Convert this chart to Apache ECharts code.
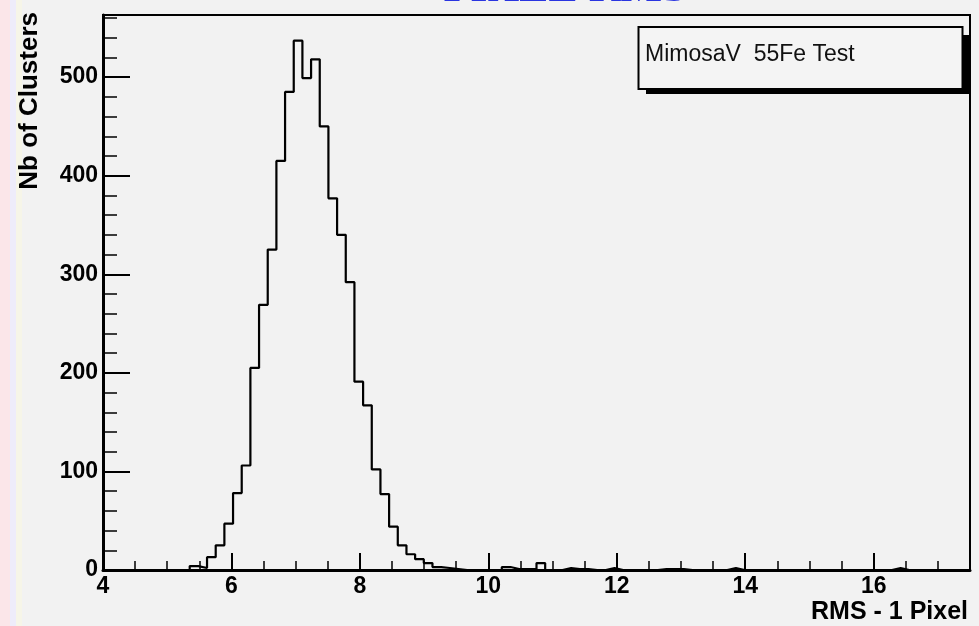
<!DOCTYPE html>
<html>
<head>
<meta charset="utf-8">
<title>MimosaV 55Fe Test - RMS</title>
<script src="https://cdn.jsdelivr.net/npm/echarts@6.0.0/dist/echarts.min.js"></script>
<style>
  html, body { margin: 0; padding: 0; background: #f2f2f2; }
  #chart { width: 979px; height: 626px; }
</style>
</head>
<body>
<div id="chart"></div>
<script>
// Histogram binning: 100 bins between 4 and 17.5
const binMin = 4;
const binMax = 17.5;
const binCount = 100;

// Cluster counts per bin
const counts = [
  0, 0, 0, 0, 0, 0, 0, 0, 0, 0,
  4, 2, 13, 25, 47, 78, 106, 205, 269, 325,
  415, 485, 537, 499, 518, 450, 377, 340, 292, 191,
  167, 102, 77, 44, 25, 16, 11, 7, 3, 2,
  1, 0, 0, 0, 0, 0, 3, 1, 1, 1,
  7, 0, 0, 2, 1, 1, 0, 0, 2, 0,
  0, 0, 0, 0, 1, 1, 1, 0, 0, 0,
  0, 0, 2, 0, 0, 0, 0, 0, 0, 0,
  0, 0, 0, 0, 0, 0, 0, 0, 0, 0,
  0, 2, 0, 0, 0, 0, 0, 0, 0, 0
];

// Axis settings
const xMajorStep = 2;
const xMinorStep = 0.5;
const yMax = 563;
const yMajorStep = 100;
const yMinorStep = 20;

const titleText = 'PIXEL RMS';
const xTitle = 'RMS - 1 Pixel';
const yTitle = 'Nb of Clusters';
const boxText = 'MimosaV  55Fe Test';

// Step outline: each bin starts at its lower edge, closed at the upper edge
const binWidth = (binMax - binMin) / binCount;
const outline = counts.map((c, k) => [binMin + k * binWidth, c]);
outline.push([binMax, counts[binCount - 1]]);

const sans = '"Liberation Sans", Arial, Helvetica, sans-serif';

const chart = echarts.init(document.getElementById('chart'), null, { renderer: 'canvas' });

chart.setOption({
  backgroundColor: '#f2f2f2',
  animation: false,
  grid: {
    left: 103, right: 9, top: 15, bottom: 56,
    show: true, borderColor: '#000', borderWidth: 2,
    backgroundColor: 'transparent'
  },
  xAxis: [
    {
      type: 'value', position: 'bottom',
      min: binMin, max: binMax, interval: xMajorStep,
      axisLine: { lineStyle: { color: '#000', width: 3 } },
      axisTick: { inside: true, length: 17, lineStyle: { color: '#000', width: 2 } },
      axisLabel: {
        color: '#000', fontSize: 23, fontWeight: 'bold', fontFamily: sans,
        margin: 5, showMaxLabel: false
      },
      splitLine: { show: false }
    },
    {
      type: 'value', position: 'bottom',
      min: binMin, max: binMax, interval: xMinorStep,
      axisLine: { show: false },
      axisTick: { inside: true, length: 9, lineStyle: { color: '#000', width: 1.5 } },
      axisLabel: { show: false },
      splitLine: { show: false }
    }
  ],
  yAxis: [
    {
      type: 'value', position: 'left',
      min: 0, max: yMax, interval: yMajorStep,
      axisLine: { lineStyle: { color: '#000', width: 3 } },
      axisTick: { inside: true, length: 27, lineStyle: { color: '#000', width: 2 } },
      axisLabel: {
        color: '#000', fontSize: 23, fontWeight: 'bold', fontFamily: sans,
        margin: 5, showMaxLabel: false
      },
      splitLine: { show: false }
    },
    {
      type: 'value', position: 'left',
      min: 0, max: yMax, interval: yMinorStep,
      axisLine: { show: false },
      axisTick: { inside: true, length: 14, lineStyle: { color: '#000', width: 1.5 } },
      axisLabel: { show: false },
      splitLine: { show: false }
    }
  ],
  series: [
    {
      type: 'line',
      xAxisIndex: 0, yAxisIndex: 0,
      step: 'end',
      symbol: 'none',
      clip: true,
      lineStyle: { color: '#000', width: 2.2 },
      data: outline
    }
  ],
  graphic: [
    // page edge strip
    { type: 'rect', shape: { x: 0, y: 0, width: 10, height: 626 }, style: { fill: '#fbe6e9' }, silent: true },
    { type: 'rect', shape: { x: 10, y: 0, width: 6, height: 626 }, style: { fill: '#eeecfa' }, silent: true },
    { type: 'rect', shape: { x: 16, y: 0, width: 6, height: 626 }, style: { fill: '#f6f5e8' }, silent: true },
    // page heading
    {
      type: 'text', x: 565, y: -10, silent: true,
      style: {
        text: titleText, font: 'bold 44px "Liberation Serif", "Times New Roman", serif',
        fill: '#2a35e0', align: 'center', verticalAlign: 'middle'
      }
    },
    // axis titles
    {
      type: 'text', x: 30, y: 12, rotation: Math.PI / 2, silent: true,
      style: {
        text: yTitle, font: 'bold 26px ' + sans, fill: '#000',
        align: 'right', verticalAlign: 'middle'
      }
    },
    {
      type: 'text', x: 968, y: 612, silent: true,
      style: {
        text: xTitle, font: 'bold 25px ' + sans, fill: '#000',
        align: 'right', verticalAlign: 'middle'
      }
    },
    // text box with drop shadow
    { type: 'rect', shape: { x: 646, y: 88, width: 324, height: 6 }, style: { fill: '#000' }, silent: true, z: 10 },
    { type: 'rect', shape: { x: 962, y: 35, width: 8, height: 59 }, style: { fill: '#000' }, silent: true, z: 10 },
    {
      type: 'rect', shape: { x: 638.5, y: 27, width: 324, height: 62 },
      style: { fill: '#f4f4f4', stroke: '#000', lineWidth: 2 }, silent: true, z: 11
    },
    {
      type: 'text', x: 645, y: 55, silent: true, z: 12,
      style: {
        text: boxText, font: '23px ' + sans, fill: '#111',
        align: 'left', verticalAlign: 'middle'
      }
    }
  ]
});
</script>
</body>
</html>
